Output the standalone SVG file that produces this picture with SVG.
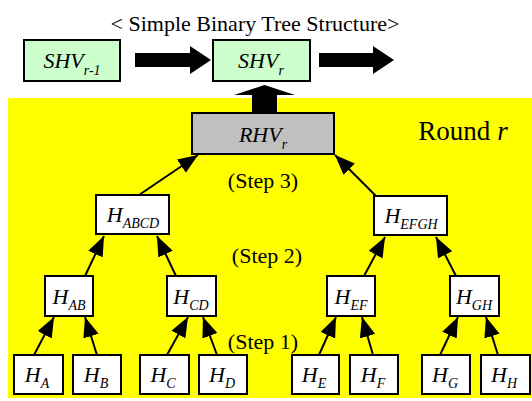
<svg xmlns="http://www.w3.org/2000/svg" width="532" height="401" viewBox="0 0 532 401">
<defs>
<marker id="ah" markerUnits="userSpaceOnUse" markerWidth="22" markerHeight="18" refX="20" refY="8" orient="auto">
<path d="M0,0 L20,8 L0,16 z" fill="#000"/>
</marker>
</defs>
<rect x="8" y="98" width="524" height="300" fill="#ffff00"/>
<text x="255" y="31" font-family="Liberation Serif" font-size="22" text-anchor="middle">&lt; Simple Binary Tree Structure&gt;</text>
<text x="463" y="140" font-family="Liberation Serif" font-size="27" text-anchor="middle">Round <tspan font-style="italic">r</tspan></text>
<text x="263" y="188" font-family="Liberation Serif" font-size="22" text-anchor="middle">(Step 3)</text>
<text x="267" y="263" font-family="Liberation Serif" font-size="22" text-anchor="middle">(Step 2)</text>
<text x="263" y="349" font-family="Liberation Serif" font-size="22" text-anchor="middle">(Step 1)</text>
<g id="fat-arrows" fill="#000">
<path d="M135,53 H190 V46 L211,60 L190,74 V67 H135 z"/>
<path d="M319,53 H373 V46 L394,60 L373,74 V67 H319 z"/>
<path d="M252,112 V95 H234 L264.5,85 L295,95 H277 V112 z"/>
</g>
<g stroke="#000" stroke-width="2">
<g id="SHVr1"><rect x="24" y="40" width="96" height="41" fill="#ccffcc"/><text x="72" y="68" stroke="none" font-family="Liberation Serif" font-size="22" font-style="italic" text-anchor="middle">SHV<tspan font-size="14" dy="7">r-1</tspan></text></g>
<g id="SHVr"><rect x="213" y="40" width="97" height="41" fill="#ccffcc"/><text x="261" y="68" stroke="none" font-family="Liberation Serif" font-size="22" font-style="italic" text-anchor="middle">SHV<tspan font-size="14" dy="7">r</tspan></text></g>
<g id="RHVr"><rect x="192" y="113" width="142" height="41" fill="#c0c0c0"/><text x="263" y="142" stroke="none" font-family="Liberation Serif" font-size="22" font-style="italic" text-anchor="middle">RHV<tspan font-size="14" dy="7">r</tspan></text></g>
<g id="HABCD"><rect x="96" y="195" width="73" height="39" fill="#fff"/><text x="133" y="222" stroke="none" font-family="Liberation Serif" font-size="22" font-style="italic" text-anchor="middle">H<tspan font-size="14" dy="6">ABCD</tspan></text></g>
<g id="HEFGH"><rect x="374" y="196" width="73" height="39" fill="#fff"/><text x="411" y="223" stroke="none" font-family="Liberation Serif" font-size="22" font-style="italic" text-anchor="middle">H<tspan font-size="14" dy="6">EFGH</tspan></text></g>
<g id="HAB"><rect x="45" y="276" width="48" height="40" fill="#fff"/><text x="69" y="304" stroke="none" font-family="Liberation Serif" font-size="22" font-style="italic" text-anchor="middle">H<tspan font-size="14" dy="6">AB</tspan></text></g>
<g id="HCD"><rect x="167" y="276" width="49" height="40" fill="#fff"/><text x="191" y="304" stroke="none" font-family="Liberation Serif" font-size="22" font-style="italic" text-anchor="middle">H<tspan font-size="14" dy="6">CD</tspan></text></g>
<g id="HEF"><rect x="327" y="276" width="48" height="40" fill="#fff"/><text x="351" y="304" stroke="none" font-family="Liberation Serif" font-size="22" font-style="italic" text-anchor="middle">H<tspan font-size="14" dy="6">EF</tspan></text></g>
<g id="HGH"><rect x="450" y="276" width="49" height="40" fill="#fff"/><text x="474" y="304" stroke="none" font-family="Liberation Serif" font-size="22" font-style="italic" text-anchor="middle">H<tspan font-size="14" dy="6">GH</tspan></text></g>
<g id="HA"><rect x="14" y="355" width="49" height="39" fill="#fff"/><text x="37" y="382" stroke="none" font-family="Liberation Serif" font-size="22" font-style="italic" text-anchor="middle">H<tspan font-size="14" dy="6">A</tspan></text></g>
<g id="HB"><rect x="73" y="355" width="48" height="39" fill="#fff"/><text x="96" y="382" stroke="none" font-family="Liberation Serif" font-size="22" font-style="italic" text-anchor="middle">H<tspan font-size="14" dy="6">B</tspan></text></g>
<g id="HC"><rect x="140" y="355" width="49" height="39" fill="#fff"/><text x="163" y="382" stroke="none" font-family="Liberation Serif" font-size="22" font-style="italic" text-anchor="middle">H<tspan font-size="14" dy="6">C</tspan></text></g>
<g id="HD"><rect x="199" y="355" width="48" height="39" fill="#fff"/><text x="222" y="382" stroke="none" font-family="Liberation Serif" font-size="22" font-style="italic" text-anchor="middle">H<tspan font-size="14" dy="6">D</tspan></text></g>
<g id="HE"><rect x="292" y="355" width="47" height="39" fill="#fff"/><text x="314" y="382" stroke="none" font-family="Liberation Serif" font-size="22" font-style="italic" text-anchor="middle">H<tspan font-size="14" dy="6">E</tspan></text></g>
<g id="HF"><rect x="350" y="355" width="48" height="39" fill="#fff"/><text x="373" y="382" stroke="none" font-family="Liberation Serif" font-size="22" font-style="italic" text-anchor="middle">H<tspan font-size="14" dy="6">F</tspan></text></g>
<g id="HG"><rect x="422" y="355" width="48" height="39" fill="#fff"/><text x="445" y="382" stroke="none" font-family="Liberation Serif" font-size="22" font-style="italic" text-anchor="middle">H<tspan font-size="14" dy="6">G</tspan></text></g>
<g id="HH"><rect x="481" y="355" width="49" height="39" fill="#fff"/><text x="504" y="382" stroke="none" font-family="Liberation Serif" font-size="22" font-style="italic" text-anchor="middle">H<tspan font-size="14" dy="6">H</tspan></text></g>
</g>
<g id="connectors" stroke="#000" stroke-width="2" marker-end="url(#ah)">
<line x1="139" y1="195" x2="198" y2="155"/>
<line x1="376" y1="196" x2="335" y2="155"/>
<line x1="85" y1="276" x2="104" y2="236"/>
<line x1="176" y1="276" x2="157" y2="236"/>
<line x1="364" y1="276" x2="385" y2="237"/>
<line x1="456" y1="276" x2="436" y2="237"/>
<line x1="34" y1="355" x2="54" y2="317"/>
<line x1="97" y1="355" x2="85" y2="317"/>
<line x1="167" y1="355" x2="188" y2="317"/>
<line x1="217" y1="355" x2="203" y2="317"/>
<line x1="319" y1="355" x2="336" y2="317"/>
<line x1="373" y1="355" x2="362" y2="317"/>
<line x1="440" y1="355" x2="458" y2="317"/>
<line x1="498" y1="355" x2="486" y2="317"/>
</g>
</svg>
